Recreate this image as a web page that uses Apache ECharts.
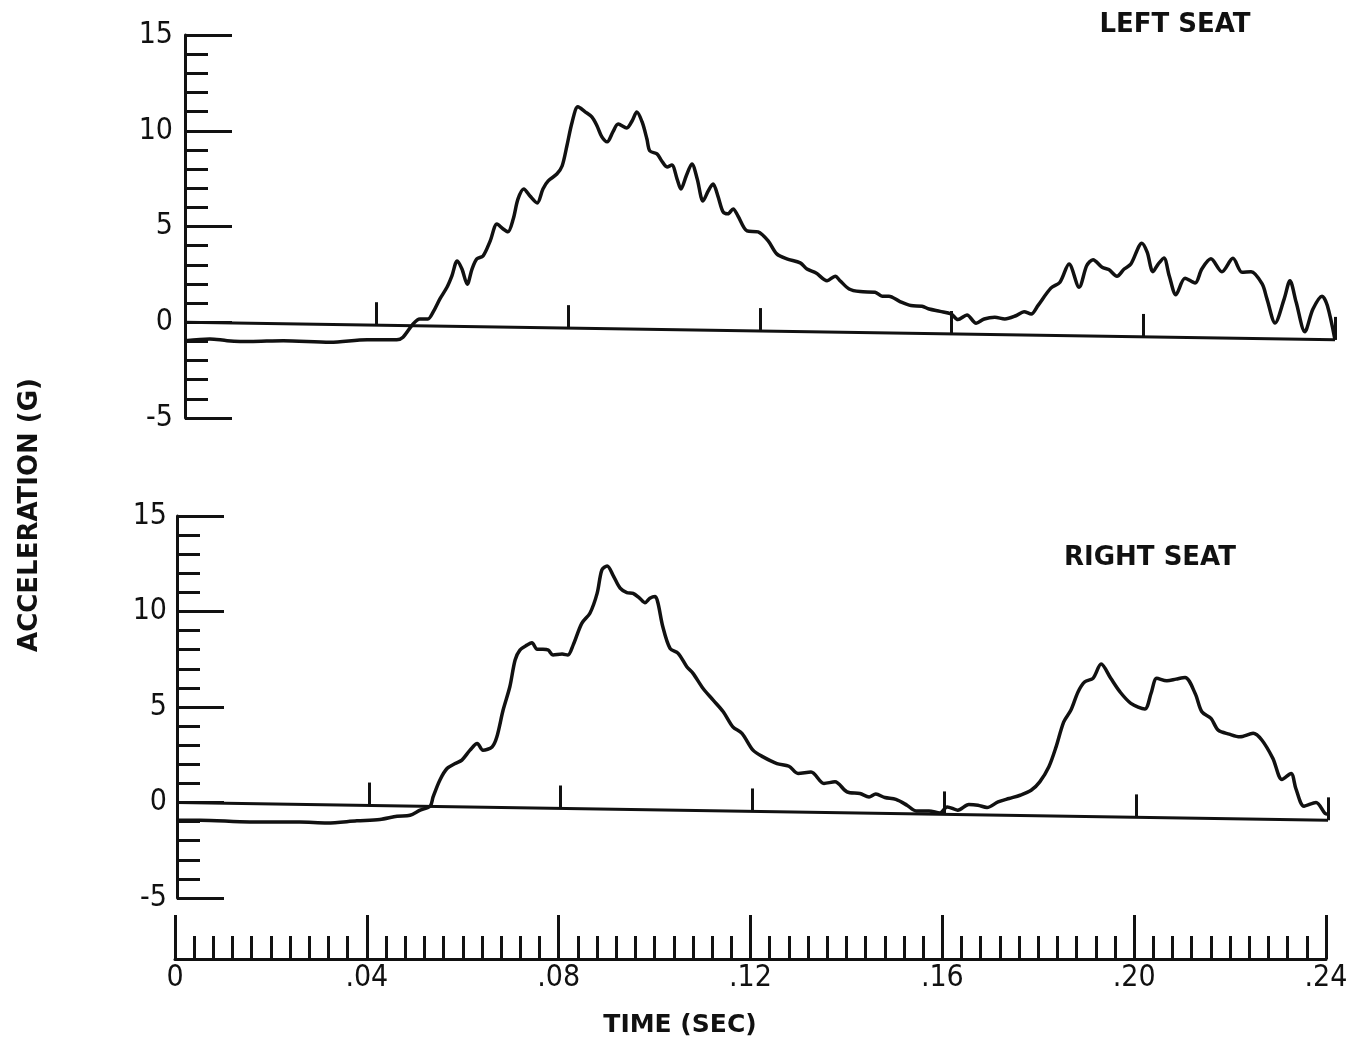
<!DOCTYPE html>
<html>
<head>
<meta charset="utf-8">
<title>Seat acceleration</title>
<script src="https://cdn.jsdelivr.net/npm/echarts@6/dist/echarts.min.js"></script>
<style>
html, body { margin: 0; padding: 0; background: #fff; }
#main { width: 1366px; height: 1042px; }
</style>
</head>
<body>
<div id="main"></div>
<script>
// left seat trace, time (s) / acceleration (G)
var timeLeft = [0, .0052, .0088, .0136, .0205, .0303, .0380, .0442, .0455, .0476, .0490, .0507, .0518, .0532, .0547, .0557,
  .0568, .0578, .0589, .0599, .0609, .0622, .0637, .0651, .0664, .0674, .0685, .0695, .0707, .0720, .0735, .0747,
  .0758, .0776, .0787, .0797, .0808, .0820, .0835, .0849, .0860, .0870, .0881, .0893, .0904, .0922, .0933, .0943,
  .0954, .0964, .0970, .0985, .0995, .1006, .1016, .1027, .1035, .1046, .1058, .1069, .1081, .1092, .1102, .1112,
  .1123, .1133, .1144, .1154, .1173, .1196, .1217, .1235, .1256, .1284, .1298, .1317, .1340, .1357, .1367, .1386,
  .1409, .1440, .1455, .1469, .1492, .1515, .1538, .1553, .1576, .1599, .1613, .1632, .1651, .1668, .1690, .1711,
  .1734, .1751, .1766, .1780, .1807, .1826, .1845, .1866, .1882, .1895, .1914, .1928, .1945, .1960, .1974, .1997,
  .2008, .2020, .2031, .2043, .2054, .2068, .2087, .2108, .2122, .2141, .2164, .2187, .2206, .2225, .2248, .2258,
  .2275, .2294, .2306, .2319, .2337, .2354, .2373, .2384, .2400];
var accelLeft = [-0.96, -0.87, -0.96, -1.01, -0.96, -1.04, -0.91, -0.91, -0.78, -0.09, 0.17, 0.17, 0.54, 1.22, 1.84, 2.42,
  3.20, 2.78, 1.99, 2.78, 3.31, 3.46, 4.25, 5.13, 4.87, 4.72, 5.39, 6.44, 6.96, 6.59, 6.23, 6.96,
  7.38, 7.74, 8.16, 9.21, 10.46, 11.25, 10.99, 10.72, 10.25, 9.68, 9.42, 9.94, 10.35, 10.15, 10.51, 10.98,
  10.46, 9.57, 8.95, 8.79, 8.42, 8.11, 8.21, 7.48, 6.96, 7.64, 8.27, 7.48, 6.33, 6.86, 7.22, 6.60,
  5.76, 5.66, 5.92, 5.55, 4.77, 4.72, 4.25, 3.57, 3.31, 3.10, 2.78, 2.57, 2.17, 2.40, 2.17, 1.74,
  1.60, 1.57, 1.36, 1.36, 1.08, 0.87, 0.84, 0.69, 0.57, 0.43, 0.14, 0.38, -0.05, 0.17, 0.26, 0.17,
  0.34, 0.55, 0.43, 0.87, 1.78, 2.09, 3.04, 1.83, 2.96, 3.27, 2.87, 2.75, 2.40, 2.78, 3.04, 4.13,
  3.66, 2.64, 3.04, 3.36, 2.43, 1.44, 2.30, 2.05, 2.78, 3.31, 2.64, 3.34, 2.61, 2.64, 2.00, 1.22,
  -0.04, 1.22, 2.17, 1.04, -0.49, 0.69, 1.36, 0.87, -0.92];

// right seat trace
var timeRight = [0, .0048, .0152, .0256, .0313, .0375, .0423, .0459, .0486, .0507, .0528, .0534, .0548, .0563, .0580, .0594,
  .0611, .0626, .0638, .0657, .0667, .0680, .0694, .0705, .0715, .0730, .0740, .0751, .0763, .0774, .0784, .0803,
  .0815, .0826, .0844, .0861, .0876, .0886, .0897, .0909, .0924, .0938, .0951, .0965, .0976, .0986, .0997, .1003,
  .1013, .1028, .1045, .1063, .1076, .1097, .1118, .1139, .1159, .1178, .1201, .1222, .1251, .1276, .1295, .1322,
  .1349, .1372, .1397, .1424, .1443, .1457, .1476, .1499, .1522, .1541, .1568, .1591, .1606, .1628, .1651, .1670,
  .1689, .1712, .1735, .1758, .1781, .1799, .1818, .1833, .1849, .1864, .1879, .1893, .1910, .1927, .1947, .1966,
  .1989, .2018, .2031, .2043, .2064, .2083, .2102, .2123, .2137, .2156, .2171, .2194, .2216, .2244, .2262, .2285,
  .2304, .2323, .2333, .2350, .2375, .2394, .2400];
var accelRight = [-0.93, -0.93, -1.02, -1.02, -1.07, -0.96, -0.89, -0.72, -0.67, -0.40, -0.19, 0.29, 1.17, 1.78, 2.04, 2.22,
  2.74, 3.09, 2.74, 2.91, 3.44, 4.84, 6.06, 7.46, 7.98, 8.24, 8.36, 8.02, 8.02, 7.98, 7.72, 7.77,
  7.72, 8.24, 9.38, 9.91, 10.95, 12.18, 12.38, 11.91, 11.22, 10.99, 10.95, 10.69, 10.46, 10.69, 10.78, 10.43,
  9.20, 8.07, 7.81, 7.11, 6.76, 5.97, 5.36, 4.75, 3.96, 3.62, 2.74, 2.39, 2.04, 1.90, 1.52, 1.60,
  1.00, 1.08, 0.56, 0.47, 0.29, 0.44, 0.26, 0.16, -0.14, -0.44, -0.44, -0.55, -0.23, -0.40, -0.10, -0.14,
  -0.26, 0.03, 0.21, 0.38, 0.64, 1.08, 1.87, 2.91, 4.22, 4.84, 5.80, 6.32, 6.50, 7.25, 6.50, 5.80,
  5.19, 4.89, 5.71, 6.50, 6.37, 6.46, 6.55, 5.71, 4.75, 4.40, 3.79, 3.58, 3.44, 3.62, 3.27, 2.31,
  1.21, 1.52, 0.73, -0.19, 0.00, -0.58, -0.61];

// the plotted zero lines run slightly downhill on the sheet
var zeroLineTime = [0, 0.24];
var zeroLineLeft = [0, -0.92];
var zeroLineRight = [0, -0.93];
var zeroTickTime = [0.04, 0.08, 0.12, 0.16, 0.20, 0.24];

var ink = '#111';
var numFont = "'Liberation Sans Narrow', 'DejaVu Sans Condensed', 'Liberation Sans', sans-serif";
var titleFont = "'DejaVu Sans', sans-serif";

function pairs(xs, ys) {
  return xs.map(function (x, i) { return [x, ys[i]]; });
}

function baseAt(t, line) {
  return line[0] + (line[1] - line[0]) * (t - zeroLineTime[0]) / (zeroLineTime[1] - zeroLineTime[0]);
}

// little upright marks standing on the zero line
function zeroTicks(line) {
  return zeroTickTime.map(function (t) {
    var b = baseAt(t, line);
    return [{ coord: [t, b] }, { coord: [t, b + 1.2] }];
  });
}

function accelAxis(idx, margin) {
  return {
    gridIndex: idx, type: 'value', position: 'left',
    min: -5, max: 15, interval: 5,
    axisLine: { show: true, lineStyle: { color: ink, width: 3 } },
    axisTick: { show: true, inside: true, length: 47, lineStyle: { color: ink, width: 3 } },
    minorTick: { show: true, splitNumber: 5, length: 23, lineStyle: { color: ink, width: 3 } },
    axisLabel: { color: ink, fontFamily: numFont, fontSize: 30, margin: margin },
    splitLine: { show: false }
  };
}

function hiddenTime(idx) {
  return { gridIndex: idx, type: 'value', min: 0, max: 0.24, show: false };
}

function traceSeries(idx, xs, ys) {
  return {
    type: 'line', xAxisIndex: idx, yAxisIndex: idx,
    data: pairs(xs, ys), showSymbol: false, smooth: 0.3,
    lineStyle: { color: ink, width: 3.5 }, silent: true
  };
}

function zeroSeries(idx, line) {
  return {
    type: 'line', xAxisIndex: idx, yAxisIndex: idx,
    data: pairs(zeroLineTime, line), showSymbol: false,
    lineStyle: { color: ink, width: 3 }, silent: true,
    markLine: {
      silent: true, symbol: ['none', 'none'], label: { show: false },
      lineStyle: { color: ink, width: 3, type: 'solid' },
      data: zeroTicks(line)
    }
  };
}

var chart = echarts.init(document.getElementById('main'));
chart.setOption({
  animation: false,
  backgroundColor: '#fff',
  grid: [
    { left: 185, top: 35, width: 1150, height: 383 },
    { left: 177, top: 516, width: 1151, height: 382 },
    { left: 175, top: 915, width: 1151, height: 44 }
  ],
  xAxis: [
    hiddenTime(0),
    hiddenTime(1),
    {
      gridIndex: 2, type: 'value', position: 'bottom',
      min: 0, max: 0.24, interval: 0.04,
      axisLine: { show: true, lineStyle: { color: ink, width: 3 } },
      axisTick: { show: true, inside: true, length: 44, lineStyle: { color: ink, width: 3 } },
      minorTick: { show: true, splitNumber: 10, length: 23, lineStyle: { color: ink, width: 3 } },
      axisLabel: {
        color: ink, fontFamily: numFont, fontSize: 30, margin: 4,
        formatter: function (v) { return v === 0 ? '0' : v.toFixed(2).slice(1); }
      },
      splitLine: { show: false }
    }
  ],
  yAxis: [
    accelAxis(0, 12),
    accelAxis(1, 10),
    { gridIndex: 2, type: 'value', min: 0, max: 1, show: false }
  ],
  series: [
    zeroSeries(0, zeroLineLeft),
    traceSeries(0, timeLeft, accelLeft),
    zeroSeries(1, zeroLineRight),
    traceSeries(1, timeRight, accelRight)
  ],
  graphic: [
    { type: 'text', x: 1175, y: 25, style: { text: 'LEFT SEAT', fill: ink, font: 'bold 26px ' + titleFont, align: 'center', verticalAlign: 'middle' } },
    { type: 'text', x: 1150, y: 558, style: { text: 'RIGHT SEAT', fill: ink, font: 'bold 26px ' + titleFont, align: 'center', verticalAlign: 'middle' } },
    { type: 'text', x: 680, y: 1025, style: { text: 'TIME (SEC)', fill: ink, font: 'bold 25px ' + titleFont, align: 'center', verticalAlign: 'middle' } },
    { type: 'text', x: 30, y: 515, rotation: Math.PI / 2, style: { text: 'ACCELERATION (G)', fill: ink, font: 'bold 26px ' + titleFont, align: 'center', verticalAlign: 'middle' } }
  ]
});
</script>
</body>
</html>
